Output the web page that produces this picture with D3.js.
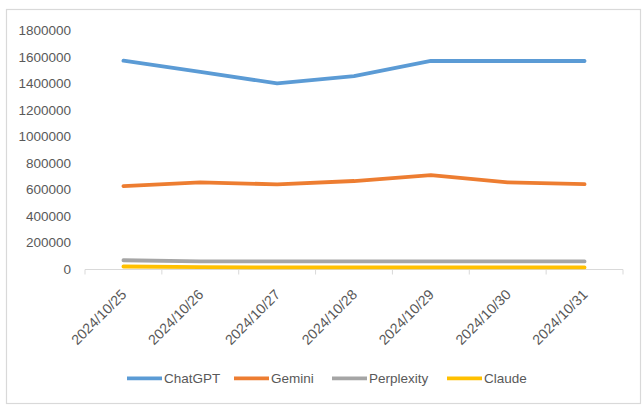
<!DOCTYPE html>
<html><head><meta charset="utf-8">
<script src="https://cdn.jsdelivr.net/npm/d3@7"></script>
<style>body{margin:0;background:#fff}svg{display:block}text{font-family:"Liberation Sans",Arial,sans-serif;fill:#595959}</style>
</head><body><svg id="c" width="643" height="407"></svg>
<script>
const categories = ["2024/10/25","2024/10/26","2024/10/27","2024/10/28","2024/10/29","2024/10/30","2024/10/31"];
const chatgpt    = [1572000,1487000,1401000,1455000,1570000,1570000,1570000];
const gemini     = [626000,654000,639000,664000,708000,654000,640000];
const perplexity = [66000,58000,57000,57000,57000,57000,57000];
const claude     = [19000,14000,12000,12000,12000,12000,12000];
const seriesNames = ["ChatGPT","Gemini","Perplexity","Claude"];
const seriesColors = ["#5B9BD5","#ED7D31","#A5A5A5","#FFC000"];
const yTicks = [0,200000,400000,600000,800000,1000000,1200000,1400000,1600000,1800000];

const svg = d3.select("#c");
svg.append("rect").attr("x",6.5).attr("y",9.5).attr("width",634).attr("height",394)
  .attr("fill","#fff").attr("stroke","#D9D9D9").attr("stroke-width",1.2);

const x = d3.scaleBand().domain(categories).range([85,623]);
const y = d3.scaleLinear().domain([0,1800000]).range([269,30.5]);

// y labels
const gy = svg.append("g").attr("transform","translate(71,0)");
gy.call(d3.axisLeft(y).tickValues(yTicks).tickSize(0).tickPadding(0).tickFormat(d3.format("d")));
gy.select(".domain").remove();
gy.selectAll("text").attr("font-size",13.5).attr("fill","#595959").style("font-family",'"Liberation Sans",Arial,sans-serif');

// x axis
const gx = svg.append("g").attr("transform","translate(0,269.5)");
gx.append("line").attr("x1",85).attr("x2",623).attr("stroke","#D9D9D9").attr("stroke-width",1);
const bounds = categories.map(c=>x(c)).concat([x.range()[1]]);
gx.selectAll("line.tk").data(bounds).enter().append("line").attr("class","tk")
  .attr("x1",d=>d).attr("x2",d=>d).attr("y1",0).attr("y2",5).attr("stroke","#D9D9D9");
gx.selectAll("text.lbl").data(categories).enter().append("text").attr("class","lbl")
  .attr("text-anchor","end").attr("font-size",14.2)
  .attr("transform",d=>`translate(${x(d)+x.bandwidth()/2+4},${26}) rotate(-45)`)
  .text(d=>d);

const data = [chatgpt,gemini,perplexity,claude];
const line = d3.line().x((d,i)=>x(categories[i])+x.bandwidth()/2).y(d=>y(d));
data.forEach((s,k)=>{
  svg.append("path").datum(s).attr("d",line).attr("fill","none")
    .attr("stroke",seriesColors[k]).attr("stroke-width",3.8).attr("stroke-linecap","round").attr("stroke-linejoin","round");
});

// legend
const legX = [127,234,332,447];
const lg = svg.append("g");
seriesNames.forEach((n,k)=>{
  lg.append("line").attr("x1",legX[k]).attr("x2",legX[k]+35).attr("y1",378.3).attr("y2",378.3)
    .attr("stroke",seriesColors[k]).attr("stroke-width",3.8);
  lg.append("text").attr("x",legX[k]+37).attr("y",383.3).attr("font-size",13.5).text(n);
});
</script></body></html>
